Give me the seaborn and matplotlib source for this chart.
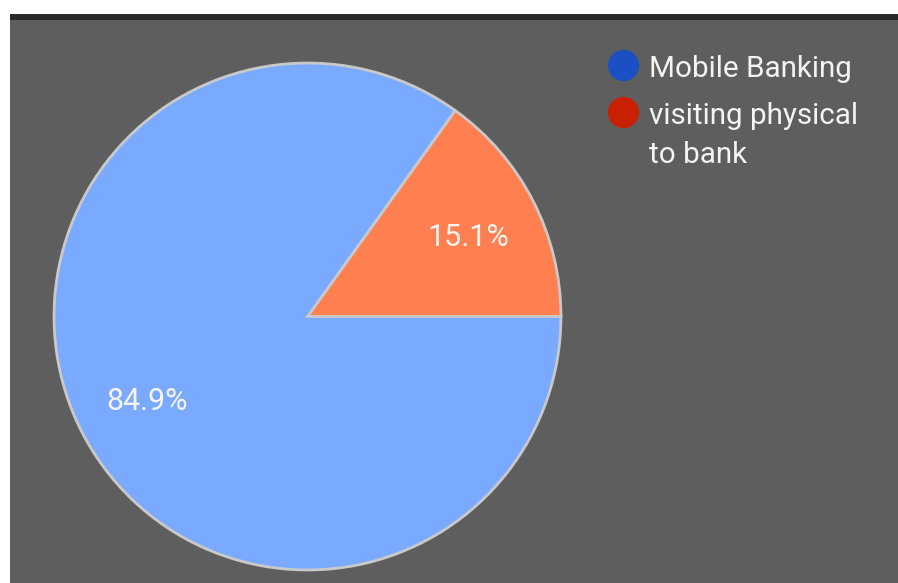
import matplotlib
matplotlib.use("Agg")
import matplotlib.pyplot as plt
from matplotlib.patches import Rectangle
from matplotlib.lines import Line2D
from matplotlib.offsetbox import HPacker
import seaborn as sns

# Share of respondents by preferred banking channel
categories = ["visiting physical\nto bank", "Mobile Banking"]
shares = [15.1, 84.9]
slice_colors = ["#ff7f50", "#7aaaff"]
legend_labels = ["Mobile Banking", "visiting physical\nto bank"]
legend_colors = ["#1b4fc4", "#c82000"]

sns.set_theme(style="white")
plt.rcParams["font.family"] = ["Roboto", "DejaVu Sans"]

W, H = 898, 583
fig = plt.figure(figsize=(W / 100, H / 100), dpi=100, facecolor="white")

# Panel background and dark top strip
fig.patches.append(Rectangle((10 / W, 0), 1 - 10 / W, (H - 20) / H,
                             transform=fig.transFigure, facecolor="#5e5e5e",
                             edgecolor="none", zorder=-2))
fig.patches.append(Rectangle((10 / W, (H - 20) / H), 1 - 10 / W, 6 / H,
                             transform=fig.transFigure, facecolor="#282828",
                             edgecolor="none", zorder=-2))

cx, cy, half = 307.5, 316.5, 256
ax = fig.add_axes([(cx - half) / W, (H - cy - half) / H, 2 * half / W, 2 * half / H])
ax.set_facecolor("none")

wedges, texts, autotexts = ax.pie(
    shares,
    colors=slice_colors,
    startangle=0,
    counterclock=True,
    radius=1.0,
    autopct="%.1f%%",
    pctdistance=0.712,
    wedgeprops=dict(edgecolor="#c9c9c9", linewidth=2.0),
    textprops=dict(color="#f7f3ee", fontsize=22),
)
for t in autotexts:
    t.set_verticalalignment("center_baseline")
ax.set_xlim(-1.01, 1.01)
ax.set_ylim(-1.01, 1.01)
ax.set_aspect("equal")
ax.axis("off")

handles = [Line2D([], [], linestyle="none", marker="o", markersize=21.5,
                  markerfacecolor=c, markeredgecolor=c) for c in legend_colors]
leg = fig.legend(handles, legend_labels, loc="upper left",
                 bbox_to_anchor=(593 / W, 1 - 40 / H), frameon=False,
                 fontsize=21.3, labelcolor="#f4f4f4", handlelength=1.0,
                 handletextpad=0.4, labelspacing=0.64, borderpad=0)
for t in leg.get_texts():
    t.set_linespacing(1.5)
# keep each marker level with the first line of its label
for box in leg.findobj(HPacker):
    box.align = "top"

fig.savefig("out.png", dpi=100, facecolor="white")
